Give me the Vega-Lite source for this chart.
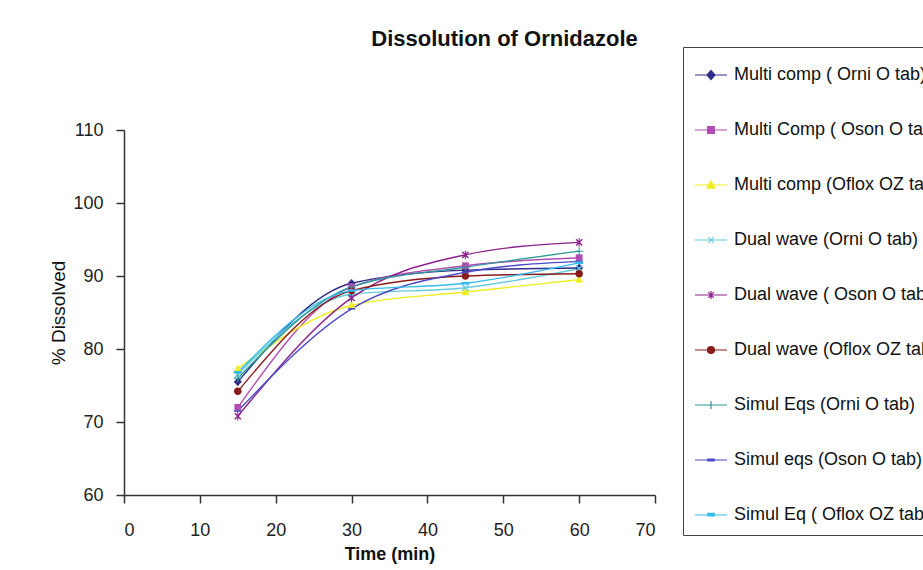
{
  "$schema": "https://vega.github.io/schema/vega-lite/v6.json",
  "width": 531,
  "height": 365,
  "autosize": {"type": "none"},
  "padding": {"left": 124, "top": 130, "right": 268, "bottom": 75},
  "background": "white",
  "title": {
    "text": "Dissolution of Ornidazole",
    "font": "Liberation Sans, Arial, sans-serif",
    "fontSize": 22,
    "fontWeight": "bold",
    "color": "#111",
    "anchor": "middle",
    "frame": "group",
    "dx": 115,
    "dy": 4,
    "offset": 0
  },
  "config": {
    "view": {"stroke": null},
    "font": "Liberation Sans, Arial, sans-serif",
    "axis": {
      "grid": false,
      "domainColor": "#333",
      "domainWidth": 1.5,
      "tickColor": "#333",
      "tickWidth": 1.5,
      "tickSize": 8,
      "labelFont": "Liberation Sans, Arial, sans-serif",
      "labelFontSize": 18,
      "labelColor": "#222",
      "titleFont": "Liberation Sans, Arial, sans-serif",
      "titleColor": "#111"
    }
  },
  "data": {
    "values": [
      {"series": "Multi comp ( Orni O tab)", "time": 15, "pct": 75.5},
      {"series": "Multi comp ( Orni O tab)", "time": 30, "pct": 89.0},
      {"series": "Multi comp ( Orni O tab)", "time": 45, "pct": 90.8},
      {"series": "Multi comp ( Orni O tab)", "time": 60, "pct": 91.1},
      {"series": "Multi Comp ( Oson O tab)", "time": 15, "pct": 72.0},
      {"series": "Multi Comp ( Oson O tab)", "time": 30, "pct": 88.5},
      {"series": "Multi Comp ( Oson O tab)", "time": 45, "pct": 91.4},
      {"series": "Multi Comp ( Oson O tab)", "time": 60, "pct": 92.5},
      {"series": "Multi comp (Oflox OZ tab)", "time": 15, "pct": 77.3},
      {"series": "Multi comp (Oflox OZ tab)", "time": 30, "pct": 86.0},
      {"series": "Multi comp (Oflox OZ tab)", "time": 45, "pct": 87.8},
      {"series": "Multi comp (Oflox OZ tab)", "time": 60, "pct": 89.5},
      {"series": "Dual wave (Orni O tab)", "time": 15, "pct": 76.5},
      {"series": "Dual wave (Orni O tab)", "time": 30, "pct": 87.5},
      {"series": "Dual wave (Orni O tab)", "time": 45, "pct": 88.4},
      {"series": "Dual wave (Orni O tab)", "time": 60, "pct": 91.0},
      {"series": "Dual wave ( Oson O tab)", "time": 15, "pct": 70.8},
      {"series": "Dual wave ( Oson O tab)", "time": 30, "pct": 87.0},
      {"series": "Dual wave ( Oson O tab)", "time": 45, "pct": 92.9},
      {"series": "Dual wave ( Oson O tab)", "time": 60, "pct": 94.6},
      {"series": "Dual wave (Oflox OZ tab)", "time": 15, "pct": 74.2},
      {"series": "Dual wave (Oflox OZ tab)", "time": 30, "pct": 88.0},
      {"series": "Dual wave (Oflox OZ tab)", "time": 45, "pct": 90.0},
      {"series": "Dual wave (Oflox OZ tab)", "time": 60, "pct": 90.3},
      {"series": "Simul Eqs (Orni O tab)", "time": 15, "pct": 76.0},
      {"series": "Simul Eqs (Orni O tab)", "time": 30, "pct": 88.5},
      {"series": "Simul Eqs (Orni O tab)", "time": 45, "pct": 91.2},
      {"series": "Simul Eqs (Orni O tab)", "time": 60, "pct": 93.4},
      {"series": "Simul eqs (Oson O tab)", "time": 15, "pct": 71.5},
      {"series": "Simul eqs (Oson O tab)", "time": 30, "pct": 85.5},
      {"series": "Simul eqs (Oson O tab)", "time": 45, "pct": 90.5},
      {"series": "Simul eqs (Oson O tab)", "time": 60, "pct": 92.0},
      {"series": "Simul Eq ( Oflox OZ tab)", "time": 15, "pct": 76.8},
      {"series": "Simul Eq ( Oflox OZ tab)", "time": 30, "pct": 88.0},
      {"series": "Simul Eq ( Oflox OZ tab)", "time": 45, "pct": 89.0},
      {"series": "Simul Eq ( Oflox OZ tab)", "time": 60, "pct": 91.8}
    ]
  },
  "encoding": {
    "x": {
      "field": "time", "type": "quantitative",
      "scale": {"domain": [0, 70], "nice": false},
      "axis": {"values": [0, 10, 20, 30, 40, 50, 60, 70], "title": "Time (min)", "titleFontSize": 18, "titleFontWeight": "bold", "titlePadding": 6, "labelPadding": 18}
    },
    "y": {
      "field": "pct", "type": "quantitative",
      "scale": {"domain": [60, 110], "nice": false, "zero": false},
      "axis": {"values": [60, 70, 80, 90, 100, 110], "title": "% Dissolved", "titleFontSize": 19, "titleFontWeight": "normal", "titlePadding": 4, "labelPadding": 13}
    }
  },
  "resolve": {"scale": {"color": "independent", "shape": "independent", "fill": "independent"}},
  "layer": [
    {
      "mark": {"type": "line", "interpolate": "monotone", "strokeWidth": 1.4},
      "encoding": {
        "color": {
          "field": "series", "type": "nominal", "sort": null,
          "scale": {
            "domain": ["Multi comp ( Orni O tab)", "Multi Comp ( Oson O tab)", "Multi comp (Oflox OZ tab)", "Dual wave (Orni O tab)", "Dual wave ( Oson O tab)", "Dual wave (Oflox OZ tab)", "Simul Eqs (Orni O tab)", "Simul eqs (Oson O tab)", "Simul Eq ( Oflox OZ tab)"],
            "range": ["#2E2E8A", "#B24DB2", "#EEEE22", "#66CCDD", "#8B238B", "#8B1A1A", "#2A9999", "#4B4BC8", "#33BBEE"]
          },
          "legend": null
        }
      }
    },
    {
      "mark": {"type": "point", "filled": true, "opacity": 1, "size": 64},
      "encoding": {
        "color": {
          "field": "series", "type": "nominal", "sort": null,
          "scale": {
            "domain": ["Multi comp ( Orni O tab)", "Multi Comp ( Oson O tab)", "Multi comp (Oflox OZ tab)", "Dual wave (Orni O tab)", "Dual wave ( Oson O tab)", "Dual wave (Oflox OZ tab)", "Simul Eqs (Orni O tab)", "Simul eqs (Oson O tab)", "Simul Eq ( Oflox OZ tab)"],
            "range": ["#2E2E8A", "#B24DB2", "#EEEE22", "#66CCDD", "#8B238B", "#8B1A1A", "#2A9999", "#4B4BC8", "#33BBEE"]
          },
          "legend": null
        },
        "shape": {
          "field": "series", "type": "nominal", "sort": null,
          "scale": {
            "domain": ["Multi comp ( Orni O tab)", "Multi Comp ( Oson O tab)", "Multi comp (Oflox OZ tab)", "Dual wave (Orni O tab)", "Dual wave ( Oson O tab)", "Dual wave (Oflox OZ tab)", "Simul Eqs (Orni O tab)", "Simul eqs (Oson O tab)", "Simul Eq ( Oflox OZ tab)"],
            "range": [
              "M0,-1.1L1,0L0,1.1L-1,0Z",
              "M-0.85,-0.85L0.85,-0.85L0.85,0.85L-0.85,0.85Z",
              "M0,-1.05L1,0.8L-1,0.8Z",
              "M-0.9,-0.65L-0.65,-0.9L0,-0.25L0.65,-0.9L0.9,-0.65L0.25,0L0.9,0.65L0.65,0.9L0,0.25L-0.65,0.9L-0.9,0.65L-0.25,0Z",
              "M-0.9,-0.65L-0.65,-0.9L0,-0.25L0.65,-0.9L0.9,-0.65L0.25,0L0.9,0.65L0.65,0.9L0,0.25L-0.65,0.9L-0.9,0.65L-0.25,0ZM-0.13,-1.1L0.13,-1.1L0.13,1.1L-0.13,1.1Z",
              "M-0.95,0A0.95,0.95,0,1,1,0.95,0A0.95,0.95,0,1,1,-0.95,0Z",
              "M-0.13,-1L0.13,-1L0.13,-0.13L1,-0.13L1,0.13L0.13,0.13L0.13,1L-0.13,1L-0.13,0.13L-1,0.13L-1,-0.13L-0.13,-0.13Z",
              "M-0.9,-0.2L0.9,-0.2L0.9,0.2L-0.9,0.2Z",
              "M-1,-0.35L1,-0.35L1,0.3L-1,0.3Z"
            ]
          },
          "legend": null
        }
      }
    },
    {
      "transform": [{"filter": "false"}],
      "mark": {"type": "point", "filled": false, "opacity": 1, "strokeWidth": 1.2},
      "encoding": {
        "color": {
          "field": "series", "type": "nominal", "sort": null,
          "scale": {
            "domain": ["Multi comp ( Orni O tab)", "Multi Comp ( Oson O tab)", "Multi comp (Oflox OZ tab)", "Dual wave (Orni O tab)", "Dual wave ( Oson O tab)", "Dual wave (Oflox OZ tab)", "Simul Eqs (Orni O tab)", "Simul eqs (Oson O tab)", "Simul Eq ( Oflox OZ tab)"],
            "range": ["#2E2E8A", "#B24DB2", "#EEEE22", "#66CCDD", "#8B238B", "#8B1A1A", "#2A9999", "#4B4BC8", "#33BBEE"]
          },
          "legend": {
            "title": null, "orient": "none", "legendX": 559, "legendY": -83,
            "padding": 11, "rowPadding": 29, "symbolSize": 1024, "symbolStrokeWidth": 1.2, "symbolOpacity": 1,
            "labelFontSize": 18, "labelOffset": 6, "labelLimit": 0, "labelColor": "#111",
            "strokeColor": "#444", "fillColor": "white"
          }
        },
        "fill": {
          "field": "series", "type": "nominal", "sort": null,
          "scale": {
            "domain": ["Multi comp ( Orni O tab)", "Multi Comp ( Oson O tab)", "Multi comp (Oflox OZ tab)", "Dual wave (Orni O tab)", "Dual wave ( Oson O tab)", "Dual wave (Oflox OZ tab)", "Simul Eqs (Orni O tab)", "Simul eqs (Oson O tab)", "Simul Eq ( Oflox OZ tab)"],
            "range": ["#2E2E8A", "#B24DB2", "#EEEE22", "#66CCDD", "#8B238B", "#8B1A1A", "#2A9999", "#4B4BC8", "#33BBEE"]
          },
          "legend": {
            "title": null, "orient": "none", "legendX": 559, "legendY": -83,
            "padding": 11, "rowPadding": 29, "symbolSize": 1024, "symbolStrokeWidth": 1.2, "symbolOpacity": 1,
            "labelFontSize": 18, "labelOffset": 6, "labelLimit": 0, "labelColor": "#111",
            "strokeColor": "#444", "fillColor": "white"
          }
        },
        "shape": {
          "field": "series", "type": "nominal", "sort": null,
          "scale": {
            "domain": ["Multi comp ( Orni O tab)", "Multi Comp ( Oson O tab)", "Multi comp (Oflox OZ tab)", "Dual wave (Orni O tab)", "Dual wave ( Oson O tab)", "Dual wave (Oflox OZ tab)", "Simul Eqs (Orni O tab)", "Simul eqs (Oson O tab)", "Simul Eq ( Oflox OZ tab)"],
            "range": [
              "M-1,0L1,0M0,-0.28L0.25,0L0,0.28L-0.25,0Z",
              "M-1,0L1,0M-0.21,-0.21L0.21,-0.21L0.21,0.21L-0.21,0.21Z",
              "M-1,0L1,0M0,-0.27L0.25,0.2L-0.25,0.2Z",
              "M-1,0L1,0M-0.18,-0.18L0.18,0.18M-0.18,0.18L0.18,-0.18",
              "M-1,0L1,0M-0.18,-0.18L0.18,0.18M-0.18,0.18L0.18,-0.18M0,-0.25L0,0.25",
              "M-1,0L1,0M-0.22,0A0.22,0.22,0,1,1,0.22,0A0.22,0.22,0,1,1,-0.22,0Z",
              "M-1,0L1,0M0,-0.25L0,0.25",
              "M-1,0L1,0M-0.2,-0.05L0.2,-0.05L0.2,0.05L-0.2,0.05Z",
              "M-1,0L1,0M-0.2,-0.1L0.2,-0.1L0.2,0.05L-0.2,0.05Z"
            ]
          },
          "legend": {
            "title": null, "orient": "none", "legendX": 559, "legendY": -83,
            "padding": 11, "rowPadding": 29, "symbolSize": 1024, "symbolStrokeWidth": 1.2, "symbolOpacity": 1,
            "labelFontSize": 18, "labelOffset": 6, "labelLimit": 0, "labelColor": "#111",
            "strokeColor": "#444", "fillColor": "white"
          }
        }
      }
    }
  ]
}
